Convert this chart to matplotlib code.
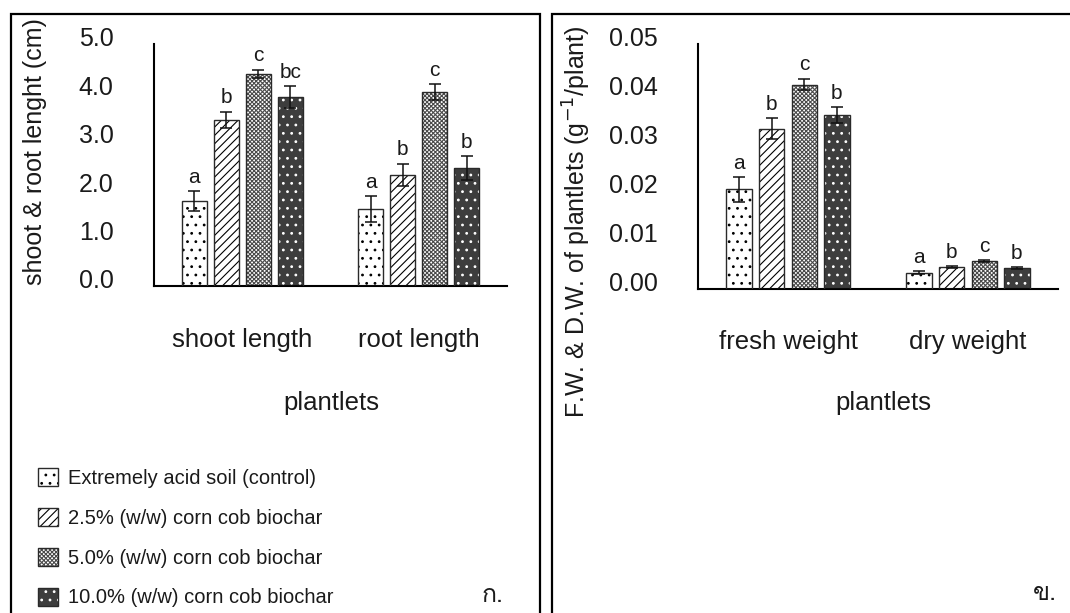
import matplotlib
matplotlib.use('Agg')
import matplotlib.pyplot as plt
from matplotlib.patches import Rectangle
from matplotlib.transforms import ScaledTranslation
from matplotlib import font_manager
from matplotlib.ft2font import FT2Font
import numpy as np

# ---------------- data ----------------
length_categories = ['shoot length', 'root length']
weight_categories = ['fresh weight', 'dry weight']
treatments = ['Extremely acid soil (control)',
              '2.5% (w/w) corn cob biochar',
              '5.0% (w/w) corn cob biochar',
              '10.0% (w/w) corn cob biochar']

# one list per treatment: [shoot, root]
length_control = [1.75, 1.59]
length_25 = [3.43, 2.30]
length_50 = [4.38, 4.01]
length_100 = [3.90, 2.43]
length_err_control = [0.21, 0.26]
length_err_25 = [0.17, 0.23]
length_err_50 = [0.09, 0.16]
length_err_100 = [0.23, 0.25]
length_letters = [['a', 'a'], ['b', 'b'], ['c', 'c'], ['bc', 'b']]

# one list per treatment: [fresh, dry]
weight_control = [0.0203, 0.0033]
weight_25 = [0.0327, 0.0044]
weight_50 = [0.0417, 0.0056]
weight_100 = [0.0355, 0.0042]
weight_err_control = [0.0025, 0.0003]
weight_err_25 = [0.0022, 0.0002]
weight_err_50 = [0.0012, 0.0002]
weight_err_100 = [0.0016, 0.0002]
weight_letters = [['a', 'a'], ['b', 'b'], ['c', 'c'], ['b', 'b']]

length_ticks = [0, 1, 2, 3, 4, 5]
length_ticklabels = ['0.0', '1.0', '2.0', '3.0', '4.0', '5.0']
weight_ticks = [0, 0.01, 0.02, 0.03, 0.04, 0.05]
weight_ticklabels = ['0.00', '0.01', '0.02', '0.03', '0.04', '0.05']

length_means = [length_control, length_25, length_50, length_100]
length_errs = [length_err_control, length_err_25, length_err_50, length_err_100]
weight_means = [weight_control, weight_25, weight_50, weight_100]
weight_errs = [weight_err_control, weight_err_25, weight_err_50, weight_err_100]

# ---------------- style ----------------
FONT = 'Liberation Sans'
plt.rcParams['font.family'] = [FONT, 'DejaVu Sans']
plt.rcParams['hatch.linewidth'] = 0.8
TXT = '#1a1a1a'


def find_font(ch):
    for f in font_manager.fontManager.ttflist:
        try:
            if FT2Font(f.fname).get_char_index(ord(ch)):
                return f.name
        except Exception:
            pass
    return 'DejaVu Sans'


thai_font = find_font('\u0e01')

styles = [
    dict(face='white', hcol='black', hatch='..'),
    dict(face='white', hcol='black', hatch='////'),
    dict(face='white', hcol='#4a4a4a', hatch='xxxxxxxx'),
    dict(face='#3d3d3d', hcol='white', hatch='..'),
]

W, H = 1070, 613
fig = plt.figure(figsize=(W / 100, H / 100), dpi=100)


def fx(px):
    return px / W


def fy(py):
    return 1 - py / H


width = 0.142
pitch = 0.181


def panel(rect, cats, means, errs, letters, ticks, ticklabels, ymax):
    ax = fig.add_axes(rect)
    handles = []
    for i, st in enumerate(styles):
        x = np.arange(len(cats)) + (i - 1.5) * pitch
        b1 = ax.bar(x, means[i], width, color=st['face'], edgecolor=st['hcol'],
                    hatch=st['hatch'], linewidth=0, zorder=2)
        b2 = ax.bar(x, means[i], width, fill=False, edgecolor='#2a2a2a',
                    linewidth=1.0, zorder=3)
        ax.errorbar(x, means[i], yerr=errs[i], fmt='none', ecolor='#111111',
                    elinewidth=1.1, capsize=4.5, capthick=1.1, zorder=4)
        for xi, m, e, lt in zip(x, means[i], errs[i], letters[i]):
            ax.annotate(lt, (xi, m + e), xytext=(0, 10), textcoords='offset points',
                        ha='center', va='center', fontsize=15, color=TXT)
        handles.append((b1.patches[0], b2.patches[0]))
    ax.set_xlim(-0.5, len(cats) - 0.5)
    ax.set_ylim(0, ymax)
    ax.set_xticks(range(len(cats)))
    ax.set_xticklabels(cats, fontsize=18.5, color=TXT)
    ax.set_yticks(ticks)
    ax.set_yticklabels(ticklabels, fontsize=18, color=TXT)
    ax.tick_params(axis='both', length=0)
    ax.tick_params(axis='y', pad=29)
    ax.tick_params(axis='x', pad=30)
    for lbl in ax.get_yticklabels():
        lbl.set_transform(lbl.get_transform() + ScaledTranslation(0, 7 / 100, fig.dpi_scale_trans))
    for s in ['top', 'right']:
        ax.spines[s].set_visible(False)
    for s in ['left', 'bottom']:
        ax.spines[s].set_linewidth(1.5)
        ax.spines[s].set_color('black')
    ax.patch.set_alpha(0)
    return ax, handles


axA, handles = panel([fx(154), fy(286), fx(507) - fx(154), fy(44) - fy(286)],
                     length_categories, length_means, length_errs, length_letters,
                     length_ticks, length_ticklabels, 5.0)
axB, _ = panel([fx(698), fy(288.7), fx(1058) - fx(698), fy(44) - fy(288.7)],
               weight_categories, weight_means, weight_errs, weight_letters,
               weight_ticks, weight_ticklabels, 0.05)

fig.text(fx(35), fy(152), 'shoot & root lenght (cm)', rotation=90, ha='center', va='center',
         fontsize=18, color=TXT)
fig.text(fx(577), fy(222), 'F.W. & D.W. of plantlets (g$^{-1}$/plant)', rotation=90,
         ha='center', va='center', fontsize=18, color=TXT)
fig.text(fx(331), fy(403), 'plantlets', ha='center', va='center', fontsize=18.5, color=TXT)
fig.text(fx(883), fy(403), 'plantlets', ha='center', va='center', fontsize=18.5, color=TXT)

leg = axA.legend(handles, treatments, loc='upper left',
                 bbox_to_anchor=(fx(38), fy(468)), bbox_transform=fig.transFigure,
                 frameon=False, fontsize=14.5, handlelength=1.0, handleheight=1.0,
                 handletextpad=0.5, labelspacing=0.99, borderpad=0, borderaxespad=0)
for t in leg.get_texts():
    t.set_color(TXT)

fig.text(fx(493), fy(596), '\u0e01.', ha='center', va='center', fontsize=18,
         family=[thai_font, 'DejaVu Sans'], color=TXT)
fig.text(fx(1045), fy(593), '\u0e02.', ha='center', va='center', fontsize=18,
         family=[thai_font, 'DejaVu Sans'], color=TXT)

fig.add_artist(Rectangle((fx(11), -0.1), fx(540) - fx(11), fy(14) + 0.1,
                         transform=fig.transFigure, fill=False, lw=1.6, ec='black'))
fig.add_artist(Rectangle((fx(552), -0.1), 0.6, fy(14) + 0.1,
                         transform=fig.transFigure, fill=False, lw=1.6, ec='black'))

fig.savefig('out.png', dpi=100)
